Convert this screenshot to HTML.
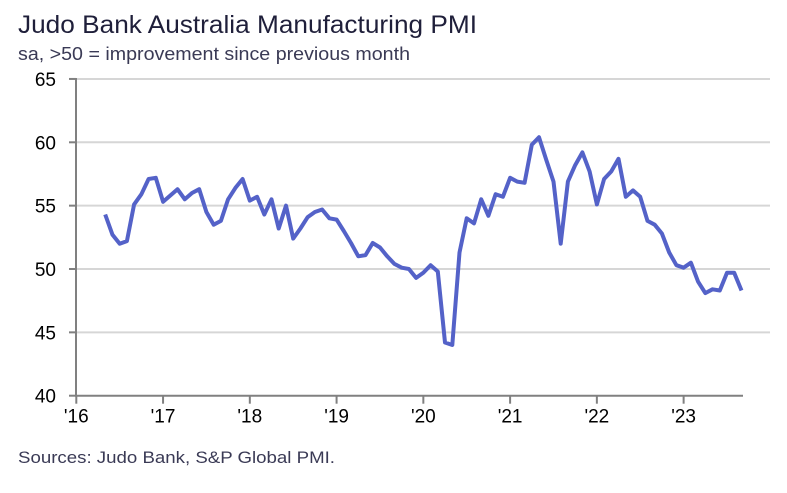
<!DOCTYPE html>
<html><head><meta charset="utf-8"><style>
body{margin:0;background:#fff;width:787px;height:488px;overflow:hidden;font-family:"Liberation Sans",sans-serif}
</style></head><body>
<svg width="787" height="488" id="chart">
<text x="18" y="33" font-size="25" fill="#1f1f3a" textLength="459" lengthAdjust="spacingAndGlyphs">Judo Bank Australia Manufacturing PMI</text>
<text x="18" y="60" font-size="18" fill="#3a3a55" textLength="392" lengthAdjust="spacingAndGlyphs">sa, &gt;50 = improvement since previous month</text>
<text x="18" y="463" font-size="17" fill="#3a3a55" textLength="317" lengthAdjust="spacingAndGlyphs">Sources: Judo Bank, S&amp;P Global PMI.</text>
<g id="grid"></g><g id="axes"></g><g id="series"></g>
</svg>
<script>
const yTicks=[40,45,50,55,60,65];
const xTickLabels=["'16","'17","'18","'19","'20","'21","'22","'23"];
const startMonthIndex=4; // May 2016
const pmiValues=[54.3,52.7,52.0,52.2,55.1,55.9,57.1,57.2,55.3,55.8,56.3,55.5,56.0,56.3,54.5,53.5,53.8,55.5,56.4,57.1,55.4,55.7,54.3,55.5,53.2,55.0,52.4,53.2,54.1,54.5,54.7,54.0,53.9,53.0,52.05,51.0,51.1,52.05,51.7,51.0,50.4,50.1,50.0,49.3,49.7,50.3,49.8,44.2,44.0,51.3,54.0,53.6,55.5,54.2,55.9,55.7,57.2,56.9,56.8,59.8,60.4,58.6,56.9,52.0,56.9,58.2,59.2,57.7,55.1,57.1,57.7,58.7,55.7,56.2,55.7,53.8,53.5,52.8,51.3,50.3,50.1,50.5,49.0,48.1,48.4,48.3,49.7,49.7,48.3];
const NS="http://www.w3.org/2000/svg";
const x=m=>76.3+m*7.23;
const y=v=>395.7-(v-40)*12.67;
function mk(tag,attrs,parent){const e=document.createElementNS(NS,tag);for(const k in attrs)e.setAttribute(k,attrs[k]);document.getElementById(parent).appendChild(e);return e;}
yTicks.forEach(v=>{
  if(v>40){const g=mk('line',{x1:76,x2:770,y1:y(v),y2:y(v),stroke:'#d6d6d6','stroke-width':2},'grid');
  
  }
  const t=mk('line',{x1:69,x2:76,y1:y(v),y2:y(v),stroke:'#808080','stroke-width':2},'axes');
  
  
  const l=mk('text',{x:56,y:y(v)+7,'font-size':19,'text-anchor':'end',fill:'#000'},'axes');
  l.textContent=v;
  
  
});
const ya=mk('line',{x1:76,x2:76,y1:y(65)-1,y2:y(40)+1,stroke:'#808080','stroke-width':2},'axes');


const xa=mk('line',{x1:76,x2:743,y1:y(40),y2:y(40),stroke:'#808080','stroke-width':2},'axes');


xTickLabels.forEach((s,i)=>{
  const xx=x(i*12);
  const t=mk('line',{x1:xx,x2:xx,y1:y(40),y2:y(40)+8,stroke:'#808080','stroke-width':2},'axes');
  
  
  const l=mk('text',{x:xx,y:y(40)+27,'font-size':19,'text-anchor':'middle',fill:'#000'},'axes');
  l.textContent=s;
  
  
});
const pts=pmiValues.map((v,i)=>x(startMonthIndex+i).toFixed(1)+','+y(v).toFixed(1)).join(' ');
const line=mk('polyline',{points:pts,fill:'none',stroke:'#5462c8','stroke-width':4,'stroke-linejoin':'round'},'series');


</script>
</body></html>
